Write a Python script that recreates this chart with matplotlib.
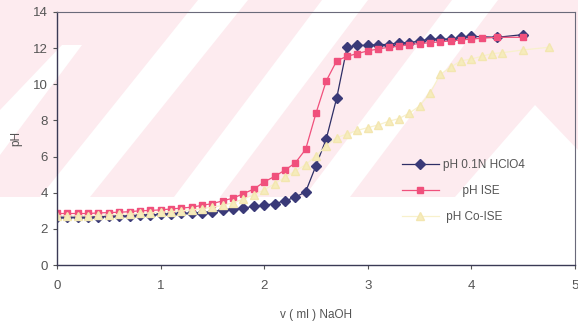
import matplotlib
matplotlib.use('Agg')
import matplotlib.pyplot as plt
from matplotlib.patches import Polygon, Rectangle

plt.rcParams['font.family'] = ['Liberation Sans', 'DejaVu Sans']

# titration data, v in ml NaOH
v_hclo4 = [0, 0.1, 0.2, 0.3, 0.4, 0.5, 0.6, 0.7, 0.8, 0.9, 1.0, 1.1, 1.2, 1.3, 1.4, 1.5,
           1.6, 1.7, 1.8, 1.9, 2.0, 2.1, 2.2, 2.3, 2.4, 2.5, 2.6, 2.7, 2.8, 2.9, 3.0,
           3.1, 3.2, 3.3, 3.4, 3.5, 3.6, 3.7, 3.8, 3.9, 4.0, 4.25, 4.5]
ph_hclo4 = [2.65, 2.65, 2.65, 2.67, 2.68, 2.7, 2.7, 2.72, 2.75, 2.77, 2.8, 2.82, 2.85, 2.88, 2.9, 2.95,
            3.05, 3.1, 3.15, 3.25, 3.3, 3.4, 3.55, 3.75, 4.05, 5.5, 7.0, 9.25, 12.05, 12.15, 12.15,
            12.2, 12.2, 12.3, 12.3, 12.4, 12.5, 12.5, 12.5, 12.6, 12.65, 12.6, 12.75]

v_ise = [0, 0.1, 0.2, 0.3, 0.4, 0.5, 0.6, 0.7, 0.8, 0.9, 1.0, 1.1, 1.2, 1.3, 1.4, 1.5,
         1.6, 1.7, 1.8, 1.9, 2.0, 2.1, 2.2, 2.3, 2.4, 2.5, 2.6, 2.7, 2.8, 2.9, 3.0,
         3.1, 3.2, 3.3, 3.4, 3.5, 3.6, 3.7, 3.8, 3.9, 4.0, 4.1, 4.25, 4.5]
ph_ise = [2.85, 2.85, 2.85, 2.85, 2.88, 2.9, 2.92, 2.95, 3.0, 3.02, 3.05, 3.1, 3.15, 3.2, 3.3, 3.4,
          3.55, 3.7, 3.95, 4.2, 4.6, 4.9, 5.25, 5.65, 6.4, 8.4, 10.2, 11.3, 11.55, 11.7, 11.85,
          11.95, 12.05, 12.1, 12.2, 12.25, 12.3, 12.35, 12.4, 12.45, 12.5, 12.55, 12.6, 12.6]

v_co = [0, 0.1, 0.2, 0.3, 0.4, 0.5, 0.6, 0.7, 0.8, 0.9, 1.0, 1.1, 1.2, 1.3, 1.4, 1.5,
        1.6, 1.7, 1.8, 1.9, 2.0, 2.1, 2.2, 2.3, 2.4, 2.5, 2.6, 2.7, 2.8, 2.9, 3.0,
        3.1, 3.2, 3.3, 3.4, 3.5, 3.6, 3.7, 3.8, 3.9, 4.0, 4.1, 4.2, 4.3, 4.5, 4.75]
ph_co = [2.72, 2.72, 2.72, 2.72, 2.75, 2.77, 2.8, 2.82, 2.85, 2.88, 2.92, 2.95, 3.0, 3.05, 3.12, 3.2,
         3.3, 3.45, 3.65, 3.9, 4.15, 4.5, 4.85, 5.2, 5.55, 6.05, 6.6, 7.05, 7.25, 7.45, 7.6,
         7.75, 7.95, 8.1, 8.4, 8.8, 9.5, 10.55, 10.95, 11.3, 11.4, 11.55, 11.7, 11.75, 11.9, 12.05]

labels = ['pH 0.1N HClO4', '      pH ISE', ' pH Co-ISE']

W, H = 578, 325
fig = plt.figure(figsize=(W / 100, H / 100), dpi=100)
fig.patch.set_facecolor('white')


def px(points):
    # pixel coords (y down) -> figure fraction
    return [(x / W, 1 - y / H) for x, y in points]


# scanned watermark behind the chart
pink = '#fdebef'
fig.add_artist(Rectangle((0, 1 - 197 / H), 1, 197 / H, transform=fig.transFigure,
                         facecolor=pink, edgecolor='none', zorder=-2))
stripes = [
    [(62, 45), (82, 45), (0, 155), (0, 110)],
    [(198, 0), (248, 0), (90, 197), (40, 197)],
    [(322, 0), (368, 0), (220, 197), (174, 197)],
    [(452, 0), (498, 0), (350, 197), (304, 197)],
    [(535, 105), (578, 150), (578, 197), (455, 197)],
]
for s in stripes:
    fig.add_artist(Polygon(px(s), closed=True, transform=fig.transFigure,
                           facecolor='white', edgecolor='none', zorder=-1))

ax = fig.add_axes([57 / W, 1 - 265 / H, 518 / W, 253 / H])
ax.set_facecolor('none')

ax.plot(v_hclo4, ph_hclo4, color='#2e2e66', lw=0.9, marker='D', ms=4.8,
        mfc='#3a3a78', mec='#3a3a78', label=labels[0])
ax.plot(v_ise, ph_ise, color='#f0507c', lw=0.9, marker='s', ms=4.8,
        mfc='#f0507c', mec='#f0507c', label=labels[1])
ax.plot(v_co, ph_co, color='#f8f1cc', lw=0.9, marker='^', ms=5.2,
        mfc='#f6ecbc', mec='#f3e6b0', label=labels[2])

ax.set_xlim(0, 5)
ax.set_ylim(0, 14)
ax.set_xticks([0, 1, 2, 3, 4, 5])
ax.set_yticks([0, 2, 4, 6, 8, 10, 12, 14])
ax.tick_params(direction='out', length=3, width=0.8, colors='#555555',
               labelsize=9.5, labelcolor='#555555')
ax.tick_params(axis='x', pad=8)
for side in ['left', 'bottom']:
    ax.spines[side].set_color('#3a3a55')
    ax.spines[side].set_linewidth(1.0)
for side in ['top', 'right']:
    ax.spines[side].set_color('#6a6a7a')
    ax.spines[side].set_linewidth(0.8)

ax.set_xlabel('v ( ml ) NaOH', fontsize=8.5, color='#555555', labelpad=12)
ax.set_ylabel('pH', fontsize=8.5, color='#555555', labelpad=8)

leg = ax.legend(loc='upper left', bbox_to_anchor=((402 - 57) / 518, (265 - 159) / 253),
                frameon=False, fontsize=8.5, handlelength=3.1, handletextpad=0.35,
                labelspacing=1.2, borderpad=0, borderaxespad=0)
for t in leg.get_texts():
    t.set_color('#555555')

fig.savefig('out.png', dpi=100)
